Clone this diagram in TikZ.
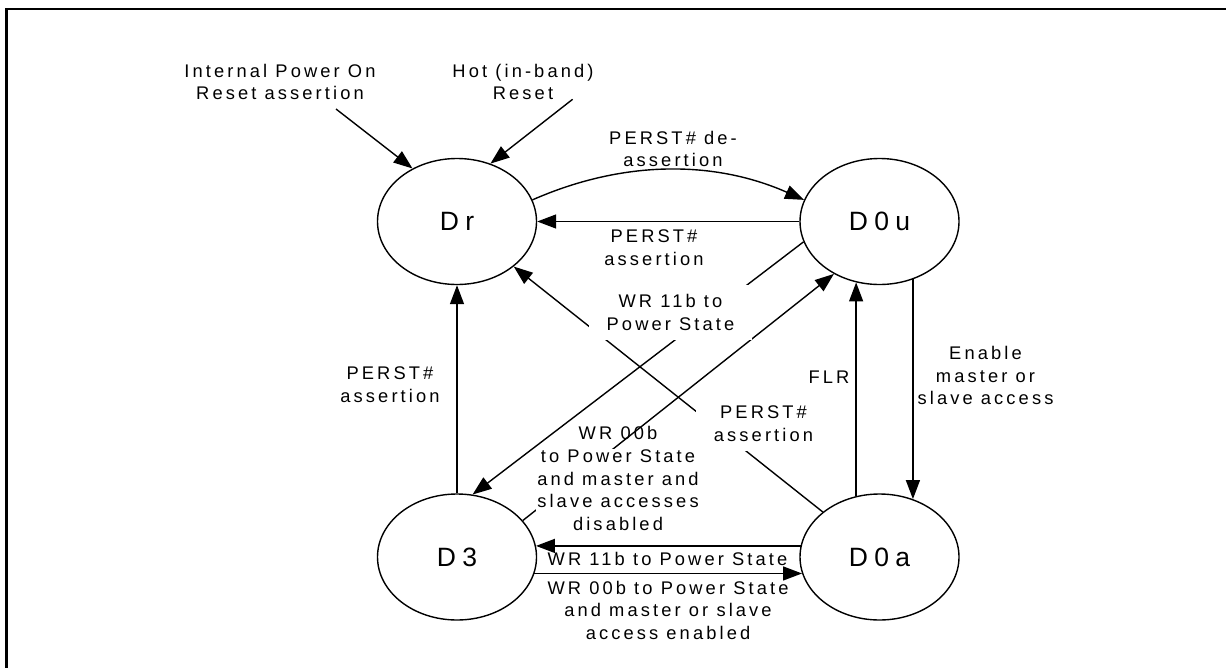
\documentclass[tikz,border=0pt]{standalone}
\usepackage{fontspec}
\setmainfont{Liberation Sans}
\newfontfamily\lblfont{Liberation Sans}[LetterSpace=17]
\newfontfamily\stfont{Liberation Sans}[LetterSpace=24]
\usetikzlibrary{shapes.geometric,arrows.meta}
\begin{document}
\begin{tikzpicture}[x=1pt,y=-1pt,
  state/.style={ellipse,draw,line width=1.4pt,minimum width=159pt,minimum height=126pt,inner sep=0pt,font=\stfont\fontsize{26.5}{30}\selectfont},
  lbl/.style={align=center,font=\lblfont\fontsize{18.3}{22.5}\selectfont,inner sep=1pt},
  wlbl/.style={lbl,fill=white,inner xsep=18pt,inner ysep=10pt},
  arr/.style={line width=1.4pt,-{Triangle[length=19pt,width=14pt]}}]
\useasboundingbox (0,0) rectangle (1226,667);
\draw[line width=2.7pt] (6.7,670) -- (6.7,9) -- (1230,9);
\node[state] (Dr) at (457,221.5) {Dr};
\node[state] (D0u) at (879.5,221.5) {D0u};
\node[state] (D3) at (457,557) {D3};
\node[state] (D0a) at (879.5,557) {D0a};
\coordinate (s1) at (336,109);
\coordinate (s2) at (572.6,99.3);
\draw[arr] (s1) -- (Dr.130);
\draw[arr] (s2) -- (Dr.60);
\draw[arr] (Dr.16) .. controls (623,160) and (714,160) .. (D0u.164);
\draw[arr] (D0u) -- (Dr);
\draw[arr] (D0u.195) -- (D3.76);
\draw[arr] (D3.29) -- (D0u.229);
\draw[arr] (D0a) -- (Dr);
\draw[arr] (D3) -- (Dr);
\draw[arr] (D0a.111) -- (D0u.249);
\draw[arr] (D0u.300) -- (D0a.60);
\draw[arr] (D0a.172) -- (D3.8);
\draw[arr] (D3.348) -- (D0a.192);
\node[lbl] (l1) at (280,82) {Internal Power On\\Reset assertion};
\node[lbl] (l2) at (523,82) {Hot (in-band)\\Reset};
\node[lbl] (l3) at (673,149) {PERST\# de-\\assertion};
\node[lbl] (l4) at (654,247.5) {PERST\#\\assertion};
\node[wlbl] (l5) at (670.5,312.5) {WR 11b to\\Power State};
\node[lbl] (l6) at (390,384.5) {PERST\#\\assertion};
\node[lbl] (l7) at (829,376.7) {FLR};
\node[lbl] (l8) at (985.5,375.7) {Enable\\master or\\slave access};
\node[wlbl] (l9) at (763.5,423.7) {PERST\#\\assertion};
\node[lbl] (l10a) at (618,433.3) {WR 00b};
\node[lbl,fill=white] (l10b) at (618,490) {to Power State\\and master and\\slave accesses\\disabled};
\node[lbl] (l11) at (667.5,559.3) {WR 11b to Power State};
\node[lbl] (l12) at (668,610.2) {WR 00b to Power State\\and master or slave\\access enabled};
\end{tikzpicture}
\end{document}
